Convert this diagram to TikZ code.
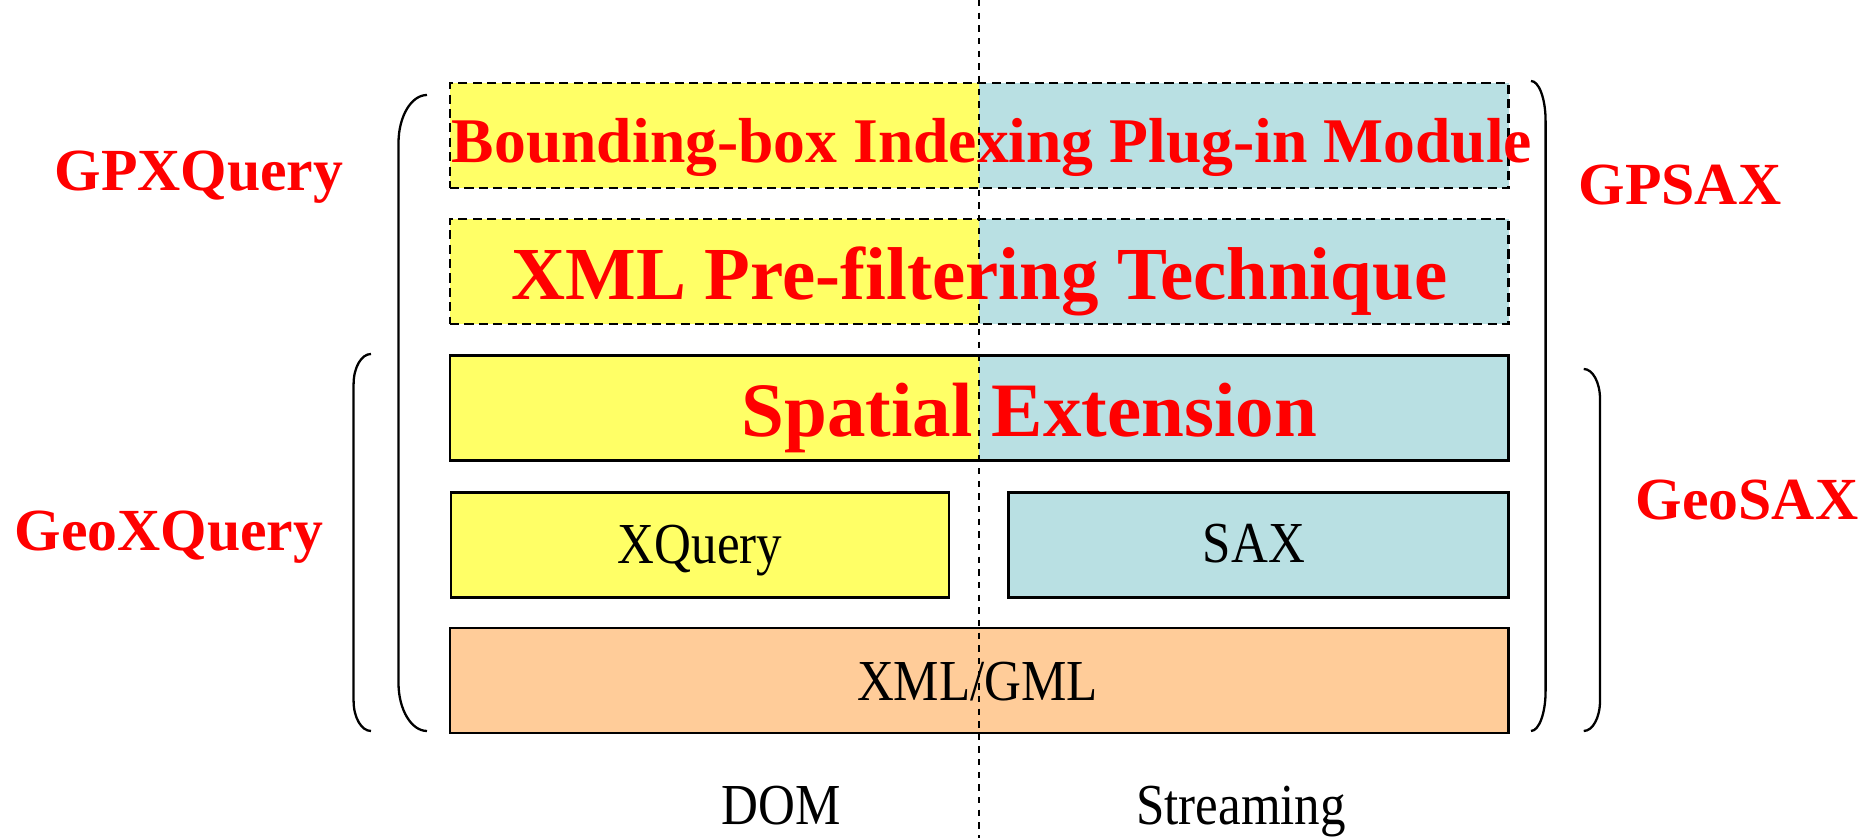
\documentclass[tikz,border=0pt]{standalone}
\usepackage{fontspec}
\setmainfont{Liberation Serif}
\newfontfamily\narrowserif[FakeStretch=0.88]{Liberation Serif}
\definecolor{dyellow}{RGB}{255,255,102}
\definecolor{sblue}{RGB}{185,224,227}
\definecolor{peach}{RGB}{255,204,153}

\begin{document}
\begin{tikzpicture}

\tikzset{layer/.style = {draw, line width=0.75pt, minimum height=1.05cm, inner sep=0pt, outer sep=0pt}}
\tikzset{halves/.style = {fill=sblue, path picture={\fill[dyellow] (path picture bounding box.south west) rectangle (path picture bounding box.north);}}}
\tikzset{plugin/.style = {dash pattern=on 2.6pt off 1.5pt}}
\tikzset{redtext/.style = {text=red, font=\bfseries\fontsize{#1}{#1}\selectfont, anchor=base, inner sep=0pt}}
\tikzset{plaintext/.style = {font=\narrowserif\fontsize{16.5}{16.5}\selectfont, anchor=base, inner sep=0pt}}
\tikzset{brace/.style = {line width=0.65pt}}

\useasboundingbox (0,0) rectangle (18.67,8.38);

\foreach \pos/\name/\kind in {{(9.793,7.023)/bb/plugin}, {(9.793,5.666)/pf/plugin}, {(9.793,4.302)/se/solid}}
\node[layer, halves, \kind, minimum width=10.586cm] (\name) at \pos {};

\node[layer, fill=dyellow, minimum width=4.98cm] (xq) at (7.0,2.9325) {};
\node[layer, fill=sblue, minimum width=5.0cm] (sax) at (12.586,2.9325) {};
\node[layer, fill=peach, minimum width=10.586cm] (gml) at (9.793,1.575) {};

% DOM | Streaming divider
\coordinate (divtop) at (9.788,8.38);
\coordinate (divbot) at (9.788,0);
\draw[line width=0.5pt, dash pattern=on 1.8pt off 1.8pt] (divtop) -- (divbot);

\node[redtext=18.1] (bbt) at (9.92,6.75) {Bounding-box Indexing Plug-in Module};
\node[redtext=21.3] (pft) at (9.793,5.38) {XML Pre-filtering Technique};
\node[redtext=21.9] (set) at (10.294,4.013) {Spatial Extension};
\node[plaintext] (xqt) at (7.0,2.747) {XQuery};
\node[plaintext] (saxt) at (12.54,2.753) {SAX};
\node[plaintext] (gmlt) at (9.776,1.37) {XML/GML};
\node[plaintext] (dom) at (7.81,0.13) {DOM};
\node[plaintext] (stream) at (12.41,0.13) {Streaming};

\node[redtext=17] (gpx) at (1.99,6.475) {GPXQuery};
\node[redtext=17] (geox) at (1.69,2.873) {GeoXQuery};
\node[redtext=17] (gpsax) at (16.80,6.332) {GPSAX};
\node[redtext=17] (geosax) at (17.47,3.18) {GeoSAX};

% brackets: end x / line x / top / bottom / bend
\foreach \e/\v/\t/\b/\s in {4.27/3.985/7.43/1.07/0.48, 3.71/3.536/4.84/1.07/0.30, 15.31/15.456/7.57/1.07/0.40, 15.837/16.0/4.69/1.07/0.30}
\draw[brace] (\e,\t) .. controls ({\v+0.448*(\e-\v)},\t) and (\v,{\t-0.448*\s}) .. (\v,{\t-\s}) -- (\v,{\b+\s}) .. controls (\v,{\b+0.448*\s}) and ({\v+0.448*(\e-\v)},\b) .. (\e,\b);

\end{tikzpicture}
\end{document}
